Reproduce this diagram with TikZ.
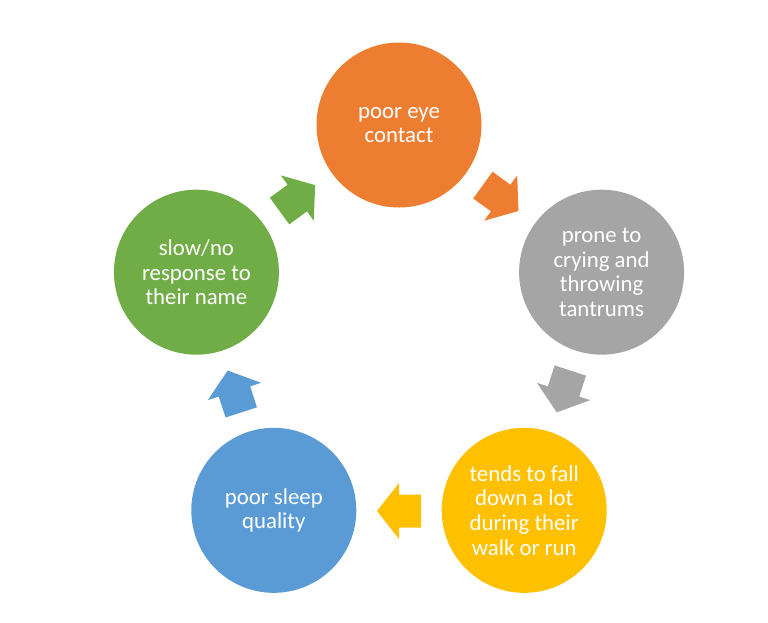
\documentclass[tikz,border=0pt]{standalone}
\usepackage{fontspec}
\setmainfont{Carlito}
\usetikzlibrary{calc}
\definecolor{cOrange}{HTML}{ED7D31}
\definecolor{cGray}{HTML}{A5A5A5}
\definecolor{cYellow}{HTML}{FFC000}
\definecolor{cBlue}{HTML}{5B9BD5}
\definecolor{cGreen}{HTML}{70AD47}
\tikzset{
  stage/.style={circle, minimum size=165pt, inner sep=0pt, text=white, align=center,
    font=\fontsize{22.8}{24.6}\selectfont}
}
\newcommand{\blockarrow}[3]{%
  \fill[#1, shift={(#2)}, rotate=#3]
    (-22,16.5) -- (0,16.5) -- (0,28) -- (22,0) -- (0,-28) -- (0,-16.5) -- (-22,-16.5) -- cycle;}
\begin{document}
\begin{tikzpicture}[x=1pt,y=1pt]
\useasboundingbox (0,0) rectangle (768,-622);
\coordinate (ctr) at (399,-338);
\node[stage, fill=cOrange] (eye) at ($(ctr)+(90:213)$) {poor eye\\contact};
\node[stage, fill=cGray] (cry) at ($(ctr)+(18:213)$) {prone to\\crying and\\throwing\\tantrums};
\node[stage, fill=cYellow] (fall) at ($(ctr)+(-54:213)$) {tends to fall\\down a lot\\during their\\walk or run};
\node[stage, fill=cBlue] (sleep) at ($(ctr)+(-126:213)$) {poor sleep\\quality};
\node[stage, fill=cGreen] (name) at ($(ctr)+(162:213)$) {slow/no\\response to\\their name};
\coordinate (a1) at ($(ctr)+(54:173)$);
\coordinate (a2) at ($(ctr)+(-18:173)$);
\coordinate (a3) at ($(ctr)+(-90:173)$);
\coordinate (a4) at ($(ctr)+(-162:173)$);
\coordinate (a5) at ($(ctr)+(126:173)$);
\blockarrow{cOrange}{a1}{-36}
\blockarrow{cGray}{a2}{-108}
\blockarrow{cYellow}{a3}{180}
\blockarrow{cBlue}{a4}{108}
\blockarrow{cGreen}{a5}{36}
\end{tikzpicture}
\end{document}
